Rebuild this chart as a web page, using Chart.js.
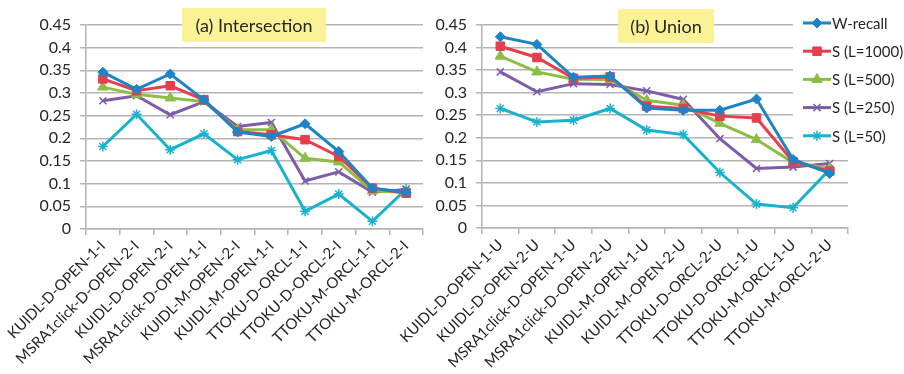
<!DOCTYPE html>
<html>
<head>
<meta charset="utf-8">
<script src="https://cdn.jsdelivr.net/npm/chart.js@4.4.0/dist/chart.umd.min.js"></script>
<style>
  body { margin: 0; background: #fff; }
  #wrap { position: relative; width: 904px; height: 374px; }
  canvas { position: absolute; left: 0; top: 0; }
</style>
</head>
<body>
<div id="wrap">
  <canvas id="chartA" width="904" height="374"></canvas>
  <canvas id="chartB" width="904" height="374"></canvas>
</div>
<script>
// categories
const labelsA = ['KUIDL-D-OPEN-1-I', 'MSRA1click-D-OPEN-2-I', 'KUIDL-D-OPEN-2-I', 'MSRA1click-D-OPEN-1-I', 'KUIDL-M-OPEN-2-I',
                 'KUIDL-M-OPEN-1-I', 'TTOKU-D-ORCL-1-I', 'TTOKU-D-ORCL-2-I', 'TTOKU-M-ORCL-1-I', 'TTOKU-M-ORCL-2-I'];
const labelsB = ['KUIDL-D-OPEN-1-U', 'KUIDL-D-OPEN-2-U', 'MSRA1click-D-OPEN-1-U', 'MSRA1click-D-OPEN-2-U', 'KUIDL-M-OPEN-1-U',
                 'KUIDL-M-OPEN-2-U', 'TTOKU-D-ORCL-2-U', 'TTOKU-D-ORCL-1-U', 'TTOKU-M-ORCL-1-U', 'TTOKU-M-ORCL-2-U'];
const seriesNames = ['W-recall', 'S (L=1000)', 'S (L=500)', 'S (L=250)', 'S (L=50)'];

// (a) Intersection
const interW    = [0.346, 0.308, 0.342, 0.285, 0.214, 0.204, 0.232, 0.171, 0.090, 0.081];
const inter1000 = [0.331, 0.305, 0.316, 0.285, 0.215, 0.208, 0.197, 0.160, 0.090, 0.079];
const inter500  = [0.313, 0.297, 0.289, 0.281, 0.219, 0.219, 0.156, 0.148, 0.084, 0.081];
const inter250  = [0.283, 0.294, 0.252, 0.281, 0.226, 0.235, 0.106, 0.126, 0.081, 0.087];
const inter50   = [0.182, 0.253, 0.175, 0.210, 0.153, 0.173, 0.039, 0.077, 0.017, 0.088];

// (b) Union
const unionW    = [0.424, 0.407, 0.334, 0.337, 0.266, 0.261, 0.261, 0.286, 0.152, 0.121];
const union1000 = [0.403, 0.378, 0.332, 0.335, 0.270, 0.265, 0.248, 0.244, 0.147, 0.126];
const union500  = [0.381, 0.346, 0.330, 0.329, 0.283, 0.272, 0.232, 0.196, 0.145, 0.132];
const union250  = [0.346, 0.302, 0.320, 0.318, 0.304, 0.285, 0.198, 0.132, 0.135, 0.143];
const union50   = [0.265, 0.235, 0.239, 0.265, 0.217, 0.207, 0.123, 0.053, 0.045, 0.130];

const yTicksMax = 0.45;
const yStep = 0.05;

const colors = ['#1d84c6', '#e63e4d', '#8cbd45', '#7f5ca8', '#17b3cd'];
const styles = ['rectRot', 'rect', 'triangle', 'crossRot', 'star'];
const radii = [5, 6, 6, 5, 5];

const FONT = 'Lato, "Open Sans", sans-serif';
const gridColor = '#b4b4b4';

function makeDatasets(lists) {
  return lists.map(function (vals, i) {
    return {
      label: seriesNames[i],
      data: vals,
      borderColor: colors[i],
      backgroundColor: colors[i],
      borderWidth: 3,
      pointStyle: styles[i],
      pointRadius: radii[i],
      pointBorderWidth: (i >= 3) ? 1.5 : 1,
      pointBorderColor: colors[i],
      pointBackgroundColor: colors[i],
      tension: 0
    };
  });
}

// yellow title box
const titleBox = {
  id: 'titleBox',
  afterDraw(chart, args, opts) {
    const ctx = chart.ctx;
    ctx.save();
    ctx.fillStyle = '#faf295';
    ctx.fillRect(opts.x, opts.y, opts.w, opts.h);
    ctx.fillStyle = '#262626';
    ctx.font = '18px ' + FONT;
    ctx.textAlign = 'center';
    ctx.textBaseline = 'middle';
    ctx.fillText(opts.text, opts.x + opts.w / 2, opts.y + opts.h / 2 + 1);
    ctx.restore();
  }
};

// legend drawn on top right, with white backing that hides gridlines
const sideLegend = {
  id: 'sideLegend',
  beforeDatasetsDraw(chart, args, opts) {
    if (!opts.show) return;
    const ctx = chart.ctx;
    ctx.save();
    ctx.fillStyle = '#fff';
    ctx.fillRect(opts.x - 10, 0, 904 - opts.x + 10, opts.bgBottom);
    ctx.restore();
  },
  afterDraw(chart, args, opts) {
    if (!opts.show) return;
    const ctx = chart.ctx;
    ctx.save();
    chart.data.datasets.forEach(function (ds, i) {
      const y = opts.y + i * opts.gap;
      ctx.strokeStyle = ds.borderColor;
      ctx.lineWidth = 3;
      ctx.beginPath();
      ctx.moveTo(opts.x, y);
      ctx.lineTo(opts.x + 28, y);
      ctx.stroke();
      ctx.fillStyle = ds.backgroundColor;
      ctx.lineWidth = ds.pointBorderWidth;
      Chart.helpers.drawPoint(ctx, {pointStyle: ds.pointStyle, radius: ds.pointRadius, borderWidth: ds.pointBorderWidth, rotation: 0}, opts.x + 14, y);
      ctx.fillStyle = '#262626';
      ctx.font = '15px ' + FONT;
      ctx.textAlign = 'left';
      ctx.textBaseline = 'middle';
      ctx.fillText(ds.label, opts.x + 29, y + 1);
    });
    ctx.restore();
  }
};

function makeChart(id, labels, lists, pad, yWidth, xHeight, title, legend) {
  return new Chart(document.getElementById(id), {
    type: 'line',
    data: { labels: labels, datasets: makeDatasets(lists) },
    options: {
      responsive: false,
      animation: false,
      layout: { padding: pad },
      plugins: {
        legend: { display: false },
        tooltip: { enabled: false },
        titleBox: title,
        sideLegend: legend
      },
      scales: {
        x: {
          offset: true,
          grid: { offset: true, drawOnChartArea: false, drawTicks: true, tickLength: 6, color: gridColor, lineWidth: 1.5 },
          border: { color: gridColor, width: 1.5 },
          ticks: { autoSkip: false, minRotation: 45, maxRotation: 45, padding: 2, color: '#262626', font: { family: FONT, size: 15 } },
          afterFit(scale) { scale.height = xHeight; }
        },
        y: {
          min: 0,
          max: yTicksMax,
          grid: { color: gridColor, lineWidth: 1.5, tickLength: 6 },
          border: { color: gridColor, width: 1.5 },
          ticks: {
            stepSize: yStep,
            padding: 9,
            color: '#262626',
            font: { family: FONT, size: 16 },
            callback: function (v) { return String(Math.round(v * 100) / 100); }
          },
          afterFit(scale) { scale.width = yWidth; }
        }
      }
    },
    plugins: [titleBox, sideLegend]
  });
}

makeChart('chartA', labelsA, [interW, inter1000, inter500, inter250, inter50],
  { left: 0, right: 481, top: 25, bottom: 0 }, 86, 145,
  { x: 182, y: 8, w: 144, h: 34, text: '(a) Intersection' },
  { show: false });

makeChart('chartB', labelsB, [unionW, union1000, union500, union250, union50],
  { left: 430, right: 56, top: 25, bottom: 0 }, 52, 146,
  { x: 618, y: 9, w: 96, h: 34, text: '(b) Union' },
  { show: true, x: 803, y: 23, gap: 28.2, bgBottom: 150 });
</script>
</body>
</html>
